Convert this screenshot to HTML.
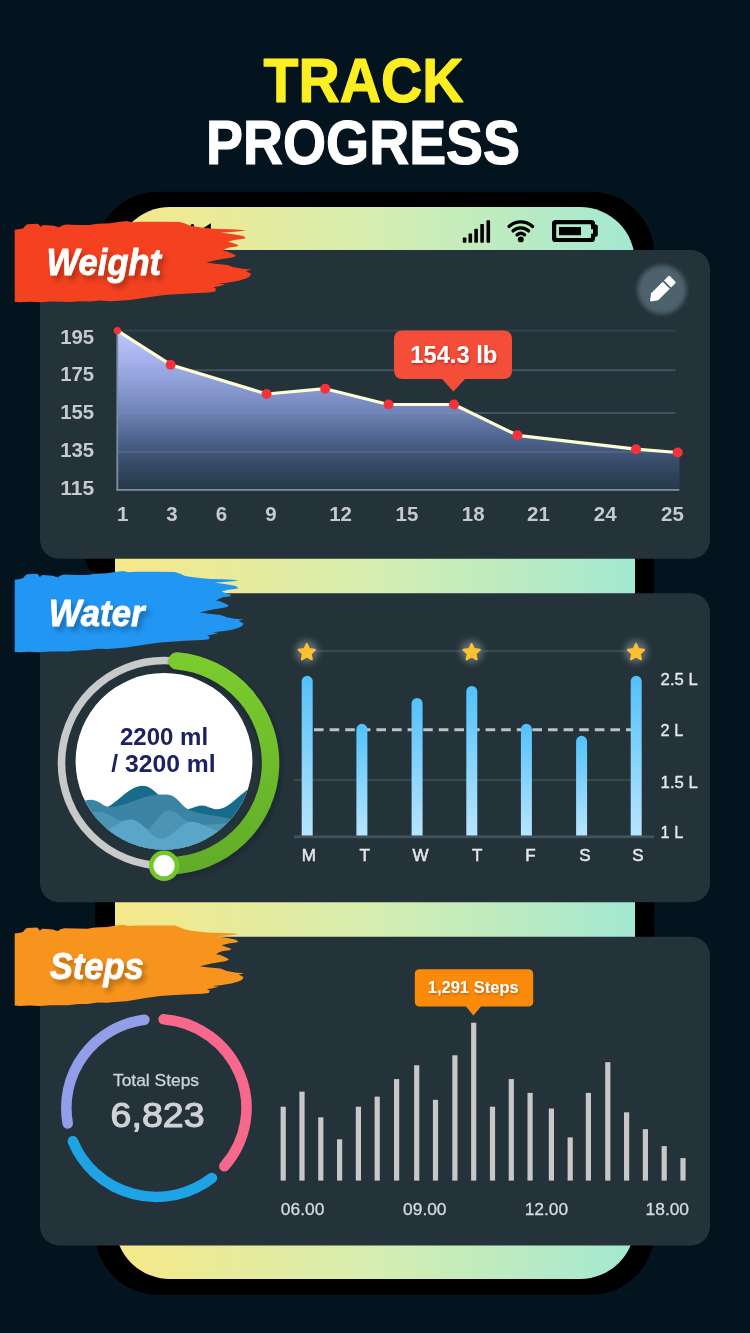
<!DOCTYPE html>
<html lang="en">
<head>
<meta charset="utf-8">
<meta name="viewport" content="width=750, initial-scale=1">
<title>Track Progress</title>
<style>
html,body{margin:0;padding:0;background:#03141e;}
body{width:750px;height:1333px;overflow:hidden;font-family:'Liberation Sans', sans-serif;}
svg{display:block;font-family:'Liberation Sans', sans-serif;}
</style>
</head>
<body>
<svg width="750" height="1333" viewBox="0 0 750 1333">
<defs>
<linearGradient id="scr" gradientUnits="userSpaceOnUse" x1="115" y1="0" x2="635" y2="0">
<stop offset="0" stop-color="#f6e889"/><stop offset="0.5" stop-color="#d6eeb0"/><stop offset="1" stop-color="#a3e8d2"/>
</linearGradient>
<linearGradient id="area" x1="0" y1="0" x2="0" y2="1">
<stop offset="0" stop-color="#bfc8ff"/><stop offset="0.25" stop-color="#9ba9e3"/><stop offset="0.5" stop-color="#7185b9"/><stop offset="0.65" stop-color="#546994"/><stop offset="0.8" stop-color="#3b4f6f"/><stop offset="1" stop-color="#273848"/>
</linearGradient>
<linearGradient id="bar" x1="0" y1="0" x2="0" y2="1">
<stop offset="0" stop-color="#52c1fb"/><stop offset="1" stop-color="#b8e5fd"/>
</linearGradient>
<linearGradient id="grn" x1="0" y1="0" x2="0" y2="1">
<stop offset="0" stop-color="#7bcb2e"/><stop offset="1" stop-color="#61ad29"/>
</linearGradient>
<filter id="glow" x="-50%" y="-50%" width="200%" height="200%"><feGaussianBlur stdDeviation="2.2"/></filter>
<filter id="sglow" x="-100%" y="-100%" width="300%" height="300%"><feGaussianBlur stdDeviation="3"/></filter>
<filter id="ds1" x="-20%" y="-30%" width="150%" height="180%"><feDropShadow dx="3.5" dy="4.5" stdDeviation="2.6" flood-color="#000" flood-opacity="0.26"/></filter>
<filter id="ds2" x="-20%" y="-30%" width="150%" height="180%"><feDropShadow dx="0.6" dy="1.3" stdDeviation="1.1" flood-color="#5a0f08" flood-opacity="0.45"/></filter>
<filter id="ds3" x="-20%" y="-30%" width="150%" height="180%"><feDropShadow dx="0.6" dy="1.2" stdDeviation="1.1" flood-color="#6b3200" flood-opacity="0.5"/></filter>
<clipPath id="wclip"><circle cx="164" cy="761.3" r="88.4"/></clipPath>
</defs>
<rect width="750" height="1333" fill="#03141e"/>
<text x="263.6" y="102.0" font-size="62.8" fill="#fdee21" font-weight="bold" textLength="200" lengthAdjust="spacingAndGlyphs" stroke="#fdee21" stroke-width="1.2" stroke-linejoin="round">TRACK</text>
<text x="206.0" y="163.5" font-size="62.8" fill="#ffffff" font-weight="bold" textLength="314" lengthAdjust="spacingAndGlyphs" stroke="#ffffff" stroke-width="1.2" stroke-linejoin="round">PROGRESS</text>
<rect x="95" y="191.8" width="559.2" height="1103" rx="63" ry="63" fill="#000"/>
<path d="M85 540 L85.3 559.5 Q86.5 569 95.5 573.5 L96 540 Z" fill="#000"/>
<rect x="115" y="207" width="520" height="1072" rx="55" ry="55" fill="url(#scr)"/>
<g fill="#000"><rect x="462.8" y="237.4" width="3.6" height="5.3" rx="0.7"/><rect x="468.5" y="233.4" width="3.6" height="9.3" rx="0.7"/><rect x="474.3" y="228.8" width="3.6" height="13.9" rx="0.7"/><rect x="480.3" y="224.0" width="3.6" height="18.7" rx="0.7"/><rect x="486.5" y="220.2" width="3.6" height="22.5" rx="0.7"/></g>
<g fill="none" stroke="#000" stroke-width="3.4" stroke-linecap="round"><path d="M509.09 226.39 A17.5 17.5 0 0 1 532.51 226.39"/><path d="M513.10 230.85 A11.5 11.5 0 0 1 528.50 230.85"/><path d="M517.09 234.81 A5.9 5.9 0 0 1 524.51 234.81"/></g>
<circle cx="520.8" cy="239.4" r="2.9" fill="#000"/>
<rect x="552" y="220" width="43" height="22" rx="3.6" fill="#000"/>
<rect x="593" y="224.4" width="4.8" height="12.4" rx="1.8" fill="#000"/>
<rect x="556.2" y="224.2" width="34.8" height="13.8" rx="0.8" fill="url(#scr)"/>
<rect x="590.5" y="229.2" width="2.5" height="4.4" fill="url(#scr)"/>
<rect x="559" y="227" width="22" height="8.2" fill="#000"/>
<path d="M201.8 229 L210.9 223.2 L210.9 229 Z" fill="#000"/><circle cx="192.4" cy="225.6" r="1.7" fill="#000"/>
<rect x="40" y="250" width="670" height="308.8" rx="19" ry="19" fill="#24323a"/>
<rect x="40" y="593.3" width="670" height="309" rx="19" ry="19" fill="#24323a"/>
<rect x="40" y="936.8" width="670" height="308.6" rx="19" ry="19" fill="#24323a"/>
<path d="M14.7 229.7 L19.0 229.2 L23.3 228.3 L25.0 226.0 L27.3 224.3 L33.0 224.0 L38.0 223.7 L39.6 225.6 L40.7 227.0 L42.0 225.8 L43.3 225.0 L48.0 225.2 L54.0 225.7 L57.0 226.8 L59.3 227.3 L62.0 225.6 L66.0 224.6 L78.0 224.9 L90.0 225.0 L94.0 224.2 L98.0 223.7 L110.0 223.3 L118.0 222.0 L126.7 221.0 L130.0 221.8 L133.3 222.3 L140.0 221.7 L160.0 221.8 L180.0 221.9 L185.0 223.6 L190.7 225.9 L196.0 226.8 L201.3 227.5 L211.0 228.5 L217.1 229.0 L230.1 229.2 L240.0 229.7 L246.0 230.4 L240.0 231.3 L233.9 231.8 L220.8 232.7 L228.0 233.4 L234.8 234.4 L243.2 236.0 L246.0 238.3 L240.0 239.2 L235.7 239.7 L228.3 241.6 L233.9 243.5 L238.5 245.1 L236.7 246.5 L230.1 247.2 L226.4 248.4 L222.7 250.5 L227.3 251.4 L233.9 254.2 L236.2 256.1 L232.0 257.5 L218.0 259.8 L205.9 262.6 L213.3 263.5 L227.3 264.9 L233.9 267.3 L242.3 268.7 L251.6 269.6 L246.0 271.0 L251.1 273.8 L249.7 276.6 L246.0 278.5 L238.5 280.8 L227.3 282.7 L218.9 283.6 L225.5 284.5 L218.0 286.4 L213.3 287.3 L216.1 288.7 L215.2 291.5 L208.7 292.5 L190.0 293.4 L180.0 294.0 L164.7 295.0 L150.0 297.0 L130.0 300.1 L118.0 300.8 L110.0 301.2 L100.0 300.6 L90.0 301.6 L80.0 301.2 L70.0 302.0 L52.0 301.5 L40.0 302.2 L30.0 301.7 L20.0 302.2 L14.7 301.9 Z" fill="#f4411f"/>
<path d="M14.7 579.7 L18.9 579.2 L23.0 578.3 L24.7 576.0 L26.9 574.3 L32.4 574.0 L37.3 573.7 L38.8 575.6 L39.9 577.0 L41.1 575.8 L42.4 575.0 L46.9 575.2 L52.7 575.7 L55.6 576.8 L57.9 577.3 L60.5 575.6 L64.4 574.6 L76.0 574.9 L87.6 575.0 L91.5 574.2 L95.3 573.7 L107.0 573.3 L114.7 572.0 L123.1 571.0 L126.3 571.8 L129.5 572.3 L136.0 571.7 L155.4 571.8 L174.7 571.9 L179.6 573.6 L185.1 575.9 L190.2 576.8 L195.3 577.5 L204.7 578.5 L210.6 579.0 L223.2 579.2 L232.8 579.7 L238.6 580.4 L232.8 581.3 L226.9 581.8 L214.2 582.7 L221.2 583.4 L227.8 584.4 L235.9 586.0 L238.6 588.3 L232.8 589.2 L228.6 589.7 L221.5 591.6 L226.9 593.5 L231.3 595.1 L229.6 596.5 L223.2 597.2 L219.6 598.4 L216.0 600.5 L220.5 601.4 L226.9 604.2 L229.1 606.1 L225.0 607.5 L211.5 609.8 L199.8 612.6 L206.9 613.5 L220.5 614.9 L226.9 617.3 L235.0 618.7 L244.0 619.6 L238.6 620.8 L243.5 623.4 L242.2 626.0 L238.6 627.8 L231.3 629.9 L220.5 631.6 L212.4 632.3 L218.8 633.0 L211.5 634.7 L206.9 635.4 L209.7 636.7 L208.8 639.3 L202.5 640.1 L184.4 640.8 L174.7 641.4 L159.9 642.4 L145.7 644.4 L126.3 647.5 L114.7 648.4 L107.0 649.0 L97.3 648.8 L87.6 650.3 L77.9 650.4 L68.2 651.6 L50.8 651.5 L39.2 652.2 L29.5 651.7 L19.8 652.2 L14.7 651.9 Z" fill="#2196f3"/>
<path d="M14.7 933.4 L18.9 932.9 L23.0 932.0 L24.7 929.7 L26.9 928.0 L32.4 927.7 L37.3 927.4 L38.8 929.3 L39.9 930.7 L41.1 929.5 L42.4 928.7 L46.9 928.9 L52.7 929.4 L55.6 930.5 L57.9 931.0 L60.5 929.3 L64.4 928.3 L76.0 928.6 L87.6 928.7 L91.5 927.9 L95.3 927.4 L107.0 927.0 L114.7 925.7 L123.1 924.7 L126.3 925.5 L129.5 926.0 L136.0 925.4 L155.4 925.5 L174.7 925.6 L179.6 927.3 L185.1 929.6 L190.2 930.5 L195.3 931.2 L204.7 932.2 L210.6 932.7 L223.2 932.9 L232.8 933.4 L238.6 934.1 L232.8 935.0 L226.9 935.5 L214.2 936.4 L221.2 937.1 L227.8 938.1 L235.9 939.7 L238.6 942.0 L232.8 942.9 L228.6 943.4 L221.5 945.3 L226.9 947.2 L231.3 948.8 L229.6 950.2 L223.2 950.9 L219.6 952.1 L216.0 954.2 L220.5 955.1 L226.9 957.9 L229.1 959.8 L225.0 961.2 L211.5 963.5 L199.8 966.3 L206.9 967.2 L220.5 968.6 L226.9 971.0 L235.0 972.4 L244.0 973.3 L238.6 974.5 L243.5 977.1 L242.2 979.7 L238.6 981.5 L231.3 983.6 L220.5 985.3 L212.4 986.0 L218.8 986.7 L211.5 988.4 L206.9 989.1 L209.7 990.4 L208.8 993.0 L202.5 993.8 L184.4 994.5 L174.7 995.1 L159.9 996.1 L145.7 998.1 L126.3 1001.2 L114.7 1002.1 L107.0 1002.7 L97.3 1002.5 L87.6 1004.0 L77.9 1004.1 L68.2 1005.3 L50.8 1005.2 L39.2 1005.9 L29.5 1005.4 L19.8 1005.9 L14.7 1005.6 Z" fill="#f7941d"/>
<text x="46.6" y="275" font-size="37.5" font-weight="bold" font-style="italic" fill="#fff" stroke="#fff" stroke-width="0.8" stroke-linejoin="round" textLength="114.5" lengthAdjust="spacingAndGlyphs" filter="url(#ds1)">Weight</text>
<text x="48.8" y="625.6" font-size="37.5" font-weight="bold" font-style="italic" fill="#fff" stroke="#fff" stroke-width="0.8" stroke-linejoin="round" textLength="95.6" lengthAdjust="spacingAndGlyphs" filter="url(#ds1)">Water</text>
<text x="49.8" y="979.4" font-size="37.5" font-weight="bold" font-style="italic" fill="#fff" stroke="#fff" stroke-width="0.8" stroke-linejoin="round" textLength="94" lengthAdjust="spacingAndGlyphs" filter="url(#ds1)">Steps</text>
<circle cx="662" cy="289.6" r="24.5" fill="#4d626c" filter="url(#glow)"/>
<g transform="translate(650.3 301.2) rotate(-45)" fill="#fff"><path d="M0.6 -0.9 L6.2 -5 L22.6 -5 L22.6 5 L6.2 5 L0.6 0.9 Q-0.2 0 0.6 -0.9 Z"/><path d="M24.4 -5 L30.2 -5 Q31.6 -5 31.6 -3.6 L31.6 3.6 Q31.6 5 30.2 5 L24.4 5 Z"/></g>
<rect x="117.5" y="329.70000000000005" width="558.0" height="1.8" fill="#34444c"/>
<rect x="117.5" y="369.3" width="558.0" height="1.8" fill="#34444c"/>
<rect x="117.5" y="412.1" width="558.0" height="1.8" fill="#34444c"/>
<rect x="117.5" y="451.1" width="558.0" height="1.8" fill="#34444c"/>
<polygon points="117.4,490 117.4,330.6 170.6,364.7 266.6,394 325.2,388.7 388.5,404.5 454,404.5 517.4,435.3 636,449.2 677.7,452.5 679.5,452.6 679.5,490" fill="url(#area)"/>
<rect x="117.5" y="369.3" width="558.0" height="1.8" fill="#8fa0c8" opacity="0.18"/>
<rect x="117.5" y="412.1" width="558.0" height="1.8" fill="#8fa0c8" opacity="0.18"/>
<rect x="117.5" y="451.1" width="558.0" height="1.8" fill="#8fa0c8" opacity="0.18"/>
<rect x="116.4" y="330" width="1.8" height="160.8" fill="#78909c"/>
<rect x="116.4" y="489" width="563" height="1.8" fill="#78909c"/>
<polyline points="117.4,330.6 170.6,364.7 266.6,394 325.2,388.7 388.5,404.5 454,404.5 517.4,435.3 636,449.2 677.7,452.5" fill="none" stroke="#fdfcd2" stroke-width="3.2" stroke-linejoin="round" stroke-linecap="round"/>
<circle cx="117.4" cy="330.6" r="3.6" fill="#f5323c"/>
<circle cx="170.6" cy="364.7" r="5" fill="#f5323c"/>
<circle cx="266.6" cy="394" r="5" fill="#f5323c"/>
<circle cx="325.2" cy="388.7" r="5" fill="#f5323c"/>
<circle cx="388.5" cy="404.5" r="5" fill="#f5323c"/>
<circle cx="454" cy="404.5" r="5" fill="#f5323c"/>
<circle cx="517.4" cy="435.3" r="5" fill="#f5323c"/>
<circle cx="636" cy="449.2" r="5" fill="#f5323c"/>
<circle cx="677.7" cy="452.5" r="5" fill="#f5323c"/>
<text x="60.2" y="344.1" font-size="20.5" fill="#c6cacd" font-weight="bold" textLength="34" lengthAdjust="spacingAndGlyphs">195</text>
<text x="60.2" y="381.1" font-size="20.5" fill="#c6cacd" font-weight="bold" textLength="34" lengthAdjust="spacingAndGlyphs">175</text>
<text x="60.2" y="419.0" font-size="20.5" fill="#c6cacd" font-weight="bold" textLength="34" lengthAdjust="spacingAndGlyphs">155</text>
<text x="60.2" y="456.90000000000003" font-size="20.5" fill="#c6cacd" font-weight="bold" textLength="34" lengthAdjust="spacingAndGlyphs">135</text>
<text x="60.2" y="494.90000000000003" font-size="20.5" fill="#c6cacd" font-weight="bold" textLength="34" lengthAdjust="spacingAndGlyphs">115</text>
<text x="122.6" y="521.0" font-size="20.5" fill="#c6cacd" font-weight="bold" text-anchor="middle">1</text>
<text x="172" y="521.0" font-size="20.5" fill="#c6cacd" font-weight="bold" text-anchor="middle">3</text>
<text x="221.5" y="521.0" font-size="20.5" fill="#c6cacd" font-weight="bold" text-anchor="middle">6</text>
<text x="271" y="521.0" font-size="20.5" fill="#c6cacd" font-weight="bold" text-anchor="middle">9</text>
<text x="340.6" y="521.0" font-size="20.5" fill="#c6cacd" font-weight="bold" text-anchor="middle">12</text>
<text x="407" y="521.0" font-size="20.5" fill="#c6cacd" font-weight="bold" text-anchor="middle">15</text>
<text x="473.2" y="521.0" font-size="20.5" fill="#c6cacd" font-weight="bold" text-anchor="middle">18</text>
<text x="538.5" y="521.0" font-size="20.5" fill="#c6cacd" font-weight="bold" text-anchor="middle">21</text>
<text x="605.2" y="521.0" font-size="20.5" fill="#c6cacd" font-weight="bold" text-anchor="middle">24</text>
<text x="672.4" y="521.0" font-size="20.5" fill="#c6cacd" font-weight="bold" text-anchor="middle">25</text>
<path d="M403 330.4 H503 Q512 330.4 512 339.4 V370 Q512 379 503 379 H465 L453.4 391.5 L442 379 H403 Q394 379 394 370 V339.4 Q394 330.4 403 330.4 Z" fill="#f44d38"/>
<text x="453.8" y="363.0" font-size="24" fill="#fff" font-weight="bold" text-anchor="middle" textLength="87" lengthAdjust="spacingAndGlyphs" filter="url(#ds2)">154.3 lb</text>
<circle cx="164.1" cy="763.1" r="102.6" fill="none" stroke="#c8c9c9" stroke-width="7.6"/>
<path d="M177 660.9 A102.6 102.6 0 0 1 168.8 865.7 L164 865.7" fill="none" stroke="#1a2329" stroke-opacity="0.55" stroke-width="18" stroke-linecap="round" filter="url(#glow)" transform="translate(1.5 3)"/>
<path d="M177 660.9 A102.6 102.6 0 0 1 168.8 865.7 L164 865.7" fill="none" stroke="url(#grn)" stroke-width="17.5" stroke-linecap="round"/>
<circle cx="164" cy="761.3" r="88.4" fill="#fff"/>
<g clip-path="url(#wclip)"><path d="M100 812 L108 806.7 C120 800 130 786 142.2 785.7 C150 785.5 155 792 160 796 L168.8 800 L187.8 809.3 C193 808 197 805.5 201.7 805.5 C207 805.5 212 809.3 217 809.3 C230 809 238 794 254 786 V860 H70 Z" fill="#176b8b"/><path d="M70 806 C78 803 86 799.5 92.8 799.9 C99 800.3 103 806 108 806.7 C118 808 130 802 145 797 C155 794.5 162 794.3 168.8 794.8 C176 795.5 182 806 187.8 809.3 C196 813.5 210 815 222 816.9 C230 818 240 824 260 826 V860 H70 Z" fill="#3c84a4"/><path d="M70 815 C80 813 92 811.2 100.4 811.8 C108 812.5 114 819 120.7 820.7 C135 824 140 832 146 831 C155 826 160 811 168.8 810.5 C176 810.3 182 819 189 822 C200 826 212 825 225 823 C235 822 245 818 260 815 V860 H70 Z" fill="#4c94b4"/><path d="M70 840 C85 835 100 832 108 829.5 C116 826 122 819.4 130.8 819.4 C140 819.4 148 832 156 837 C159 838.6 162 838.6 163.7 838.4 C172 837 180 824 189 822 C196 820.5 205 826 219.5 832 C230 836 245 840 260 842 V860 H70 Z" fill="#5aa6c8"/></g>
<circle cx="164.1" cy="865.7" r="15.2" fill="#74c62b"/>
<circle cx="164.1" cy="865.7" r="10.6" fill="#fff"/>
<text x="164" y="744.6" font-size="24.4" fill="#1b2263" font-weight="bold" text-anchor="middle" textLength="88.2" lengthAdjust="spacingAndGlyphs">2200 ml</text>
<text x="163.4" y="772.3" font-size="24.4" fill="#1b2263" font-weight="bold" text-anchor="middle" textLength="104.4" lengthAdjust="spacingAndGlyphs">/ 3200 ml</text>
<rect x="307" y="649.8" width="330" height="2.6" fill="#38484f"/>
<rect x="294" y="779.0" width="337" height="2.2" fill="#38484f"/>
<rect x="294" y="835.4" width="360" height="2.8" fill="#43535b"/>
<line x1="314" y1="729.8" x2="632" y2="729.8" stroke="#b8c4c8" stroke-width="3" stroke-dasharray="9.6 6"/>
<path d="M301.7 835.6 V681.3 A5.5 5.5 0 0 1 312.7 681.3 V835.6 Z" fill="url(#bar)"/>
<path d="M356.4 835.6 V729.3 A5.5 5.5 0 0 1 367.4 729.3 V835.6 Z" fill="url(#bar)"/>
<path d="M411.6 835.6 V703.5 A5.5 5.5 0 0 1 422.6 703.5 V835.6 Z" fill="url(#bar)"/>
<path d="M466.3 835.6 V691.5 A5.5 5.5 0 0 1 477.3 691.5 V835.6 Z" fill="url(#bar)"/>
<path d="M520.9 835.6 V729.3 A5.5 5.5 0 0 1 531.9 729.3 V835.6 Z" fill="url(#bar)"/>
<path d="M576.1 835.6 V741.3 A5.5 5.5 0 0 1 587.1 741.3 V835.6 Z" fill="url(#bar)"/>
<path d="M630.7 835.6 V681.3 A5.5 5.5 0 0 1 641.7 681.3 V835.6 Z" fill="url(#bar)"/>
<circle cx="306.8" cy="651.6" r="11.5" fill="#93a2a6" opacity="0.5" filter="url(#sglow)"/>
<polygon points="306.80,643.80 309.21,649.08 314.98,649.74 310.70,653.67 311.85,659.36 306.80,656.50 301.75,659.36 302.90,653.67 298.62,649.74 304.39,649.08" fill="#fdc130" stroke="#fdc130" stroke-width="2" stroke-linejoin="round"/>
<circle cx="471.6" cy="651.6" r="11.5" fill="#93a2a6" opacity="0.5" filter="url(#sglow)"/>
<polygon points="471.60,643.80 474.01,649.08 479.78,649.74 475.50,653.67 476.65,659.36 471.60,656.50 466.55,659.36 467.70,653.67 463.42,649.74 469.19,649.08" fill="#fdc130" stroke="#fdc130" stroke-width="2" stroke-linejoin="round"/>
<circle cx="636.0" cy="651.6" r="11.5" fill="#93a2a6" opacity="0.5" filter="url(#sglow)"/>
<polygon points="636.00,643.80 638.41,649.08 644.18,649.74 639.90,653.67 641.05,659.36 636.00,656.50 630.95,659.36 632.10,653.67 627.82,649.74 633.59,649.08" fill="#fdc130" stroke="#fdc130" stroke-width="2" stroke-linejoin="round"/>
<text x="660.6" y="684.8000000000001" font-size="17" fill="#e6e8ea" textLength="37.2" lengthAdjust="spacingAndGlyphs" stroke="#e6e8ea" stroke-width="0.35">2.5 L</text>
<text x="660.6" y="735.6" font-size="17" fill="#e6e8ea" textLength="22.6" lengthAdjust="spacingAndGlyphs" stroke="#e6e8ea" stroke-width="0.35">2 L</text>
<text x="660.6" y="787.5" font-size="17" fill="#e6e8ea" textLength="37.2" lengthAdjust="spacingAndGlyphs" stroke="#e6e8ea" stroke-width="0.35">1.5 L</text>
<text x="660.6" y="838.4" font-size="17" fill="#e6e8ea" textLength="22.6" lengthAdjust="spacingAndGlyphs" stroke="#e6e8ea" stroke-width="0.35">1 L</text>
<text x="308.8" y="861.2" font-size="17" fill="#e6e8ea" text-anchor="middle" stroke="#e6e8ea" stroke-width="0.5">M</text>
<text x="364.6" y="861.2" font-size="17" fill="#e6e8ea" text-anchor="middle" stroke="#e6e8ea" stroke-width="0.5">T</text>
<text x="420.6" y="861.2" font-size="17" fill="#e6e8ea" text-anchor="middle" stroke="#e6e8ea" stroke-width="0.5">W</text>
<text x="477.2" y="861.2" font-size="17" fill="#e6e8ea" text-anchor="middle" stroke="#e6e8ea" stroke-width="0.5">T</text>
<text x="530.4" y="861.2" font-size="17" fill="#e6e8ea" text-anchor="middle" stroke="#e6e8ea" stroke-width="0.5">F</text>
<text x="584.8" y="861.2" font-size="17" fill="#e6e8ea" text-anchor="middle" stroke="#e6e8ea" stroke-width="0.5">S</text>
<text x="637.8" y="861.2" font-size="17" fill="#e6e8ea" text-anchor="middle" stroke="#e6e8ea" stroke-width="0.5">S</text>
<path d="M163.63 1019.19 A90.1 89.0 0 0 1 224.40 1166.29" fill="none" stroke="#f8688c" stroke-width="10.6" stroke-linecap="round"/>
<path d="M211.87 1178.03 A90.1 89.0 0 0 1 72.86 1141.24" fill="none" stroke="#1ea3e4" stroke-width="10.6" stroke-linecap="round"/>
<path d="M67.67 1123.35 A90.1 89.0 0 0 1 144.33 1019.70" fill="none" stroke="#939ee8" stroke-width="10.6" stroke-linecap="round"/>
<text x="156" y="1086.4" font-size="17" fill="#cfd4d7" text-anchor="middle" textLength="86" lengthAdjust="spacingAndGlyphs" stroke="#cfd4d7" stroke-width="0.3">Total Steps</text>
<text x="157.6" y="1127.0" font-size="34.6" fill="#d0d3d5" text-anchor="middle" textLength="94" lengthAdjust="spacingAndGlyphs" stroke="#d0d3d5" stroke-width="1.1" stroke-linejoin="round">6,823</text>
<rect x="280.6" y="1106.7" width="5.2" height="73.9" fill="#c8c8c8"/>
<rect x="299.4" y="1091.6" width="5.2" height="89.0" fill="#c8c8c8"/>
<rect x="318.2" y="1117.3" width="5.2" height="63.3" fill="#c8c8c8"/>
<rect x="337.0" y="1139.3" width="5.2" height="41.3" fill="#c8c8c8"/>
<rect x="355.8" y="1106.7" width="5.2" height="73.9" fill="#c8c8c8"/>
<rect x="374.6" y="1096.6" width="5.2" height="84.0" fill="#c8c8c8"/>
<rect x="394.0" y="1079.1" width="5.2" height="101.5" fill="#c8c8c8"/>
<rect x="414.1" y="1065.3" width="5.2" height="115.3" fill="#c8c8c8"/>
<rect x="432.9" y="1099.8" width="5.2" height="80.8" fill="#c8c8c8"/>
<rect x="452.3" y="1055.3" width="5.2" height="125.3" fill="#c8c8c8"/>
<rect x="471.1" y="1022.7" width="5.2" height="157.9" fill="#c8c8c8"/>
<rect x="489.9" y="1106.7" width="5.2" height="73.9" fill="#c8c8c8"/>
<rect x="508.7" y="1079.1" width="5.2" height="101.5" fill="#c8c8c8"/>
<rect x="527.5" y="1092.9" width="5.2" height="87.7" fill="#c8c8c8"/>
<rect x="548.8" y="1108.5" width="5.2" height="72.1" fill="#c8c8c8"/>
<rect x="567.6" y="1137.4" width="5.2" height="43.2" fill="#c8c8c8"/>
<rect x="585.8" y="1092.9" width="5.2" height="87.7" fill="#c8c8c8"/>
<rect x="605.2" y="1062.2" width="5.2" height="118.4" fill="#c8c8c8"/>
<rect x="624.0" y="1112.3" width="5.2" height="68.3" fill="#c8c8c8"/>
<rect x="642.8" y="1129.2" width="5.2" height="51.4" fill="#c8c8c8"/>
<rect x="661.6" y="1146.1" width="5.2" height="34.5" fill="#c8c8c8"/>
<rect x="680.4" y="1158.1" width="5.2" height="22.5" fill="#c8c8c8"/>
<path d="M419.8 969.2 H528.2 Q533.2 969.2 533.2 974.2 V1001.4 Q533.2 1006.4 528.2 1006.4 H481 L473.4 1015.4 L466 1006.4 H419.8 Q414.8 1006.4 414.8 1001.4 V974.2 Q414.8 969.2 419.8 969.2 Z" fill="#fb8a0b"/>
<text x="473.2" y="993.4" font-size="17.2" fill="#fff" font-weight="bold" text-anchor="middle" textLength="91" lengthAdjust="spacingAndGlyphs" filter="url(#ds3)">1,291 Steps</text>
<text x="302.6" y="1214.8" font-size="17" fill="#d6dbde" text-anchor="middle" textLength="43.5" lengthAdjust="spacingAndGlyphs" stroke="#d6dbde" stroke-width="0.3">06.00</text>
<text x="424.8" y="1214.8" font-size="17" fill="#d6dbde" text-anchor="middle" textLength="43.5" lengthAdjust="spacingAndGlyphs" stroke="#d6dbde" stroke-width="0.3">09.00</text>
<text x="546.4" y="1214.8" font-size="17" fill="#d6dbde" text-anchor="middle" textLength="43.5" lengthAdjust="spacingAndGlyphs" stroke="#d6dbde" stroke-width="0.3">12.00</text>
<text x="667.3" y="1214.8" font-size="17" fill="#d6dbde" text-anchor="middle" textLength="43.5" lengthAdjust="spacingAndGlyphs" stroke="#d6dbde" stroke-width="0.3">18.00</text>
</svg>
</body>
</html>
